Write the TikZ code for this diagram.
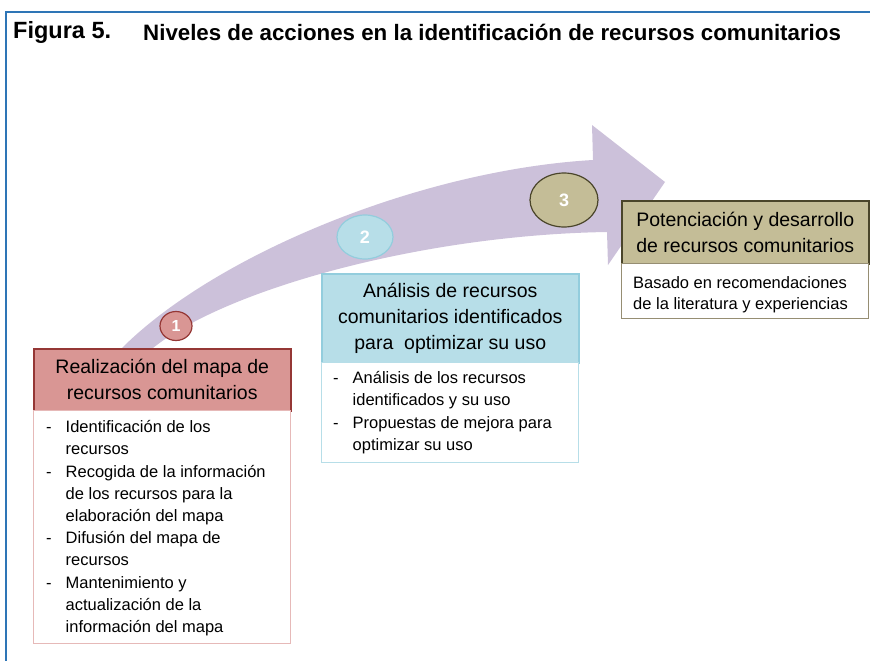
\documentclass[tikz,border=0pt]{standalone}
\usepackage{fontspec}
\setmainfont{Liberation Sans}
\usetikzlibrary{shapes.geometric}

\definecolor{frameblue}{RGB}{46,117,182}
\definecolor{arrowlila}{RGB}{204,193,218}
\definecolor{redfill}{RGB}{217,150,148}
\definecolor{redline}{RGB}{149,55,53}
\definecolor{redlight}{RGB}{230,185,184}
\definecolor{bluefill}{RGB}{183,222,232}
\definecolor{blueline}{RGB}{147,205,221}
\definecolor{olivefill}{RGB}{196,189,151}
\definecolor{oliveline}{RGB}{74,69,42}
\definecolor{olivelight}{RGB}{150,142,115}

\begin{document}
\begin{tikzpicture}[x=1pt,y=-1pt,
  header/.style={draw, line width=1.5pt, minimum width=257pt, anchor=north west,
    align=center, inner sep=0pt, font=\fontsize{19.5}{26}\selectfont},
  bodybox/.style={draw, line width=0.8pt, fill=white, minimum width=257pt,
    anchor=north west, inner sep=0pt},
  listtext/.style={anchor=north west, inner sep=0pt, font=\fontsize{16.5}{22.2}\selectfont},
  stepmark/.style={ellipse, draw, line width=1.2pt, text=white, inner sep=0pt,
    font=\fontsize{18}{18}\selectfont\bfseries}]

\useasboundingbox (0,0) rectangle (870,661);

% frame
\draw[frameblue, line width=1.5pt] (870,12) -- (6,12) -- (6,661);

% title
\node[anchor=west, inner sep=0pt, font=\fontsize{23.5}{26}\selectfont\bfseries] (fig) at (13,32) {Figura 5.};
\node[anchor=west, inner sep=0pt, font=\fontsize{22.3}{26}\selectfont\bfseries] (title) at (143,32)
  {Niveles de acciones en la identificación de recursos comunitarios};

% curved arrow
\fill[arrowlila] (122,348) .. controls (215,255) and (420,170) .. (593,160)
  -- (592,125) -- (665,182) -- (608,265) -- (607,232)
  .. controls (420,235) and (225,290) .. (153,348) -- cycle;

% level 1
\node[header, draw=redline, fill=redfill, minimum height=62pt] (h1) at (33,348)
  {Realización del mapa de\\recursos comunitarios};
\node[bodybox, draw=redlight, minimum height=233pt] (b1) at (33,410) {};
\node[listtext] (l1) at (46,417) {\begin{tabular}{@{}p{19.5pt}@{}l@{}}
- & Identificación de los\\
  & recursos\\
- & Recogida de la información\\
  & de los recursos para la\\
  & elaboración del mapa\\
- & Difusión del mapa de\\
  & recursos\\
- & Mantenimiento y\\
  & actualización de la\\
  & información del mapa
\end{tabular}};
\node[stepmark, draw=redline, fill=redfill, minimum width=32pt, minimum height=29pt,
  font=\fontsize{16}{16}\selectfont\bfseries] (n1) at (176,326) {1};

% level 2
\node[header, draw=blueline, fill=bluefill, minimum height=89pt] (h2) at (321,273)
  {Análisis de recursos\\comunitarios identificados\\para\ \ optimizar su uso};
\node[bodybox, draw=bluefill, minimum height=100pt] (b2) at (321,362) {};
\node[listtext] (l2) at (333,368) {\begin{tabular}{@{}p{19.5pt}@{}l@{}}
- & Análisis de los recursos\\
  & identificados y su uso\\
- & Propuestas de mejora para\\
  & optimizar su uso
\end{tabular}};
\node[stepmark, draw=blueline, fill=bluefill, minimum width=56pt, minimum height=44pt] (n2) at (365,237) {2};

% level 3
\node[header, draw=oliveline, fill=olivefill, minimum width=247pt, minimum height=63pt] (h3) at (621,200)
  {Potenciación y desarrollo\\de recursos comunitarios};
\node[bodybox, draw=olivelight, minimum width=247pt, minimum height=55pt] (b3) at (621,263) {};
\node[listtext, font=\fontsize{16.5}{21}\selectfont] (l3) at (633,274) {\begin{tabular}{@{}l@{}}
Basado en recomendaciones\\
de la literatura y experiencias
\end{tabular}};
\node[stepmark, draw=oliveline, fill=olivefill, minimum width=68pt, minimum height=54pt] (n3) at (564,200) {3};

\end{tikzpicture}
\end{document}
